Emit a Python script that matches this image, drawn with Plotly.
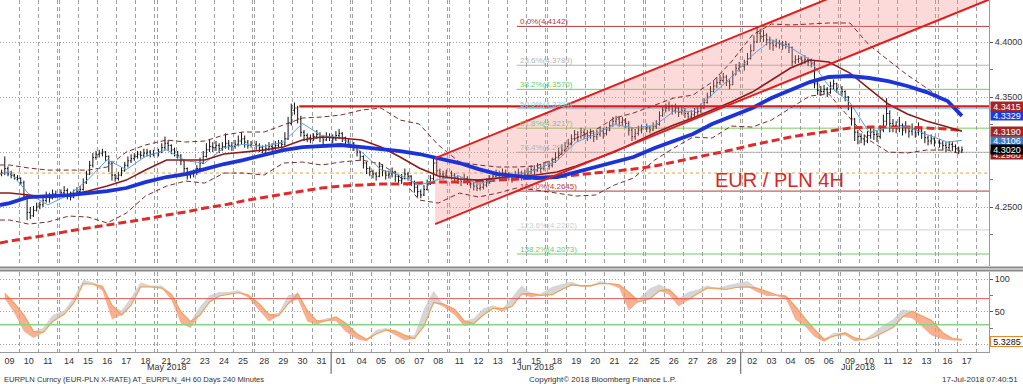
import plotly.graph_objects as go
import pandas as pd

# ---------------- data ----------------
days = ["2018-05-09","2018-05-10","2018-05-11","2018-05-14","2018-05-15","2018-05-16","2018-05-17","2018-05-18",
        "2018-05-21","2018-05-22","2018-05-23","2018-05-24","2018-05-25","2018-05-28","2018-05-29","2018-05-30",
        "2018-05-31","2018-06-01","2018-06-04","2018-06-05","2018-06-06","2018-06-07","2018-06-08","2018-06-11",
        "2018-06-12","2018-06-13","2018-06-14","2018-06-15","2018-06-18","2018-06-19","2018-06-20","2018-06-21",
        "2018-06-22","2018-06-25","2018-06-26","2018-06-27","2018-06-28","2018-06-29","2018-07-02","2018-07-03",
        "2018-07-04","2018-07-05","2018-07-06","2018-07-09","2018-07-10","2018-07-11","2018-07-12","2018-07-13",
        "2018-07-16","2018-07-17"]
day_labels = [d[-2:] for d in days]
weekend_starts = ["2018-05-12","2018-05-19","2018-05-26","2018-06-02","2018-06-09","2018-06-16",
                  "2018-06-23","2018-06-30","2018-07-07","2018-07-14"]

first_open = 4.2800
closes = [
 [4.2810,4.2850,4.2800,4.2790,4.2770,4.2760],[4.2720,4.2600,4.2450,4.2420,4.2470,4.2500],
 [4.2520,4.2560,4.2600,4.2580,4.2620,4.2610],[4.2630,4.2650,4.2610,4.2590,4.2620,4.2640],
 [4.2660,4.2720,4.2800,4.2880,4.2950,4.2980],[4.2990,4.3000,4.2960,4.2900,4.2790,4.2760],
 [4.2790,4.2830,4.2880,4.2920,4.2940,4.2960],[4.2980,4.2970,4.2990,4.3000,4.2980,4.2990],
 [4.3000,4.3040,4.3080,4.3060,4.3020,4.3000],[4.2970,4.2920,4.2850,4.2790,4.2800,4.2810],
 [4.2850,4.2900,4.2960,4.3020,4.3050,4.3040],[4.3060,4.3030,4.3050,4.3080,4.3060,4.3050],
 [4.3070,4.3100,4.3120,4.3090,4.3060,4.3070],[4.3060,4.3040,4.3020,4.3030,4.3050,4.3040],
 [4.3060,4.3080,4.3070,4.3120,4.3260,4.3380],[4.3400,4.3300,4.3180,4.3150,4.3130,4.3120],
 [4.3140,4.3160,4.3130,4.3110,4.3140,4.3130],[4.3120,4.3150,4.3170,4.3130,4.3100,4.3080],
 [4.3050,4.3000,4.2960,4.2900,4.2850,4.2820],[4.2800,4.2780,4.2870,4.2830,4.2790,4.2800],
 [4.2820,4.2780,4.2740,4.2760,4.2800,4.2780],[4.2720,4.2680,4.2640,4.2610,4.2660,4.2710],
 [4.2760,4.2900,4.2830,4.2800,4.2790,4.2810],[4.2790,4.2770,4.2750,4.2730,4.2760,4.2740],
 [4.2710,4.2690,4.2670,4.2680,4.2700,4.2720],[4.2750,4.2780,4.2800,4.2790,4.2810,4.2800],
 [4.2780,4.2760,4.2790,4.2810,4.2780,4.2800],[4.2820,4.2840,4.2830,4.2860,4.2850,4.2870],
 [4.2880,4.2910,4.2950,4.2990,4.3020,4.3050],[4.3080,4.3120,4.3160,4.3140,4.3180,4.3170],
 [4.3150,4.3170,4.3140,4.3160,4.3190,4.3170],[4.3200,4.3240,4.3280,4.3300,4.3270,4.3290],
 [4.3260,4.3200,4.3140,4.3170,4.3200,4.3210],[4.3220,4.3200,4.3230,4.3250,4.3330,4.3380],
 [4.3400,4.3420,4.3380,4.3400,4.3360,4.3380],[4.3350,4.3320,4.3340,4.3360,4.3370,4.3400],
 [4.3450,4.3500,4.3550,4.3600,4.3630,4.3650],[4.3680,4.3640,4.3610,4.3700,4.3760,4.3780],
 [4.3800,4.3850,4.3920,4.4000,4.4080,4.4050],[4.4060,4.4020,4.3990,4.3970,4.3990,4.3980],
 [4.3970,4.3980,4.3950,4.3820,4.3840,4.3850],[4.3830,4.3840,4.3820,4.3810,4.3620,4.3560],
 [4.3550,4.3570,4.3540,4.3600,4.3620,4.3580],[4.3550,4.3500,4.3420,4.3300,4.3180,4.3140],
 [4.3120,4.3100,4.3150,4.3180,4.3160,4.3140],[4.3200,4.3280,4.3350,4.3260,4.3240,4.3220],
 [4.3240,4.3200,4.3230,4.3190,4.3210,4.3180],[4.3200,4.3170,4.3130,4.3100,4.3120,4.3090],
 [4.3080,4.3060,4.3040,4.3070,4.3050,4.3030],[4.3010,4.3020]]
highs = [
 [4.2840,4.2960,4.2870,4.2830,4.2800,4.2790],[4.2770,4.2740,4.2610,4.2500,4.2510,4.2540],
 [4.2550,4.2600,4.2640,4.2630,4.2660,4.2650],[4.2660,4.2690,4.2670,4.2640,4.2660,4.2680],
 [4.2690,4.2760,4.2830,4.2920,4.2990,4.3010],[4.3020,4.3030,4.3010,4.2970,4.2920,4.2800],
 [4.2820,4.2860,4.2910,4.2960,4.2980,4.2990],[4.3010,4.3010,4.3030,4.3030,4.3020,4.3020],
 [4.3030,4.3080,4.3140,4.3110,4.3070,4.3040],[4.3010,4.2980,4.2930,4.2860,4.2830,4.2840],
 [4.2880,4.2950,4.3010,4.3080,4.3110,4.3090],[4.3100,4.3080,4.3090,4.3170,4.3110,4.3090],
 [4.3110,4.3150,4.3180,4.3150,4.3110,4.3100],[4.3100,4.3080,4.3060,4.3070,4.3090,4.3080],
 [4.3100,4.3110,4.3110,4.3180,4.3320,4.3440],[4.3450,4.3420,4.3330,4.3200,4.3170,4.3160],
 [4.3170,4.3200,4.3180,4.3150,4.3180,4.3170],[4.3160,4.3190,4.3210,4.3180,4.3140,4.3120],
 [4.3090,4.3060,4.3010,4.2970,4.2910,4.2870],[4.2840,4.2820,4.2910,4.2890,4.2830,4.2830],
 [4.2860,4.2830,4.2790,4.2800,4.2850,4.2820],[4.2790,4.2740,4.2700,4.2660,4.2700,4.2750],
 [4.2790,4.2950,4.2930,4.2850,4.2830,4.2840],[4.2830,4.2810,4.2790,4.2770,4.2800,4.2780],
 [4.2750,4.2730,4.2710,4.2710,4.2740,4.2760],[4.2790,4.2820,4.2840,4.2830,4.2850,4.2840],
 [4.2820,4.2800,4.2830,4.2850,4.2830,4.2840],[4.2860,4.2880,4.2880,4.2900,4.2890,4.2910],
 [4.2920,4.2950,4.3000,4.3040,4.3070,4.3090],[4.3120,4.3160,4.3200,4.3190,4.3220,4.3210],
 [4.3200,4.3210,4.3190,4.3200,4.3230,4.3220],[4.3230,4.3280,4.3320,4.3330,4.3320,4.3320],
 [4.3310,4.3280,4.3220,4.3210,4.3240,4.3250],[4.3260,4.3240,4.3270,4.3290,4.3370,4.3420],
 [4.3440,4.3460,4.3430,4.3440,4.3410,4.3420],[4.3400,4.3370,4.3380,4.3400,4.3410,4.3440],
 [4.3490,4.3540,4.3600,4.3650,4.3680,4.3700],[4.3720,4.3700,4.3660,4.3740,4.3800,4.3820],
 [4.3840,4.3900,4.3980,4.4060,4.4142,4.4120],[4.4110,4.4080,4.4050,4.4020,4.4030,4.4020],
 [4.4010,4.4010,4.3990,4.3960,4.3880,4.3880],[4.3870,4.3880,4.3860,4.3850,4.3830,4.3650],
 [4.3600,4.3610,4.3590,4.3640,4.3660,4.3630],[4.3600,4.3560,4.3510,4.3430,4.3310,4.3200],
 [4.3170,4.3160,4.3190,4.3230,4.3210,4.3190],[4.3240,4.3340,4.3490,4.3380,4.3300,4.3280],
 [4.3320,4.3260,4.3280,4.3240,4.3260,4.3230],[4.3270,4.3230,4.3190,4.3150,4.3160,4.3140],
 [4.3120,4.3100,4.3090,4.3100,4.3090,4.3070],[4.3050,4.3050]]
lows = [
 [4.2780,4.2790,4.2780,4.2760,4.2750,4.2740],[4.2700,4.2580,4.2380,4.2390,4.2410,4.2460],
 [4.2480,4.2500,4.2540,4.2540,4.2570,4.2580],[4.2590,4.2600,4.2570,4.2560,4.2580,4.2600],
 [4.2620,4.2650,4.2710,4.2790,4.2860,4.2930],[4.2950,4.2960,4.2920,4.2820,4.2740,4.2730],
 [4.2740,4.2780,4.2820,4.2860,4.2900,4.2920],[4.2940,4.2940,4.2950,4.2960,4.2950,4.2960],
 [4.2960,4.2990,4.3020,4.3010,4.2980,4.2960],[4.2940,4.2880,4.2800,4.2750,4.2760,4.2770],
 [4.2790,4.2840,4.2890,4.2950,4.3000,4.3000],[4.3010,4.2990,4.3010,4.3030,4.3020,4.3010],
 [4.3030,4.3050,4.3070,4.3040,4.3030,4.3040],[4.3020,4.3000,4.2990,4.2990,4.3010,4.3010],
 [4.3020,4.3040,4.3030,4.3060,4.3110,4.3240],[4.3340,4.3260,4.3140,4.3100,4.3090,4.3080],
 [4.3100,4.3120,4.3090,4.3070,4.3100,4.3100],[4.3080,4.3100,4.3120,4.3090,4.3060,4.3040],
 [4.3010,4.2960,4.2920,4.2850,4.2800,4.2780],[4.2760,4.2740,4.2770,4.2780,4.2750,4.2760],
 [4.2770,4.2730,4.2700,4.2710,4.2750,4.2740],[4.2690,4.2630,4.2590,4.2580,4.2600,4.2650],
 [4.2700,4.2740,4.2790,4.2760,4.2750,4.2770],[4.2750,4.2730,4.2710,4.2690,4.2720,4.2700],
 [4.2670,4.2650,4.2645,4.2650,4.2660,4.2680],[4.2710,4.2740,4.2760,4.2750,4.2770,4.2760],
 [4.2740,4.2720,4.2750,4.2770,4.2740,4.2760],[4.2780,4.2800,4.2790,4.2820,4.2810,4.2830],
 [4.2840,4.2860,4.2900,4.2940,4.2970,4.3000],[4.3030,4.3060,4.3100,4.3090,4.3120,4.3120],
 [4.3100,4.3120,4.3090,4.3110,4.3140,4.3120],[4.3150,4.3190,4.3230,4.3250,4.3230,4.3240],
 [4.3220,4.3150,4.3100,4.3110,4.3150,4.3170],[4.3180,4.3170,4.3190,4.3210,4.3240,4.3320],
 [4.3360,4.3370,4.3340,4.3350,4.3320,4.3340],[4.3310,4.3290,4.3300,4.3320,4.3330,4.3350],
 [4.3390,4.3440,4.3500,4.3540,4.3580,4.3610],[4.3630,4.3600,4.3570,4.3610,4.3710,4.3730],
 [4.3740,4.3790,4.3840,4.3920,4.3990,4.4000],[4.4000,4.3970,4.3930,4.3920,4.3950,4.3940],
 [4.3930,4.3940,4.3900,4.3780,4.3800,4.3810],[4.3790,4.3800,4.3780,4.3770,4.3580,4.3520],
 [4.3510,4.3520,4.3500,4.3530,4.3570,4.3540],[4.3510,4.3460,4.3380,4.3240,4.3100,4.3070],
 [4.3080,4.3060,4.3080,4.3120,4.3110,4.3090],[4.3120,4.3180,4.3240,4.3180,4.3180,4.3170],
 [4.3180,4.3150,4.3170,4.3130,4.3150,4.3130],[4.3150,4.3120,4.3080,4.3060,4.3070,4.3050],
 [4.3040,4.3020,4.3000,4.3020,4.3010,4.2990],[4.2980,4.2990]]

# indicator lines: left edge value + one per trading day
ma_short = [4.2800,4.2820,4.2620,4.2520,4.2610,4.2750,4.2930,4.2840,4.2960,4.3020,4.2920,4.2900,4.3040,4.3070,
            4.3050,4.3090,4.3260,4.3150,4.3130,4.3000,4.2840,4.2790,4.2700,4.2750,4.2780,4.2710,4.2760,4.2790,
            4.2840,4.2920,4.3090,4.3160,4.3250,4.3220,4.3240,4.3370,4.3370,4.3520,4.3680,4.3880,4.4020,4.3950,
            4.3840,4.3600,4.3450,4.3180,4.3220,4.3230,4.3160,4.3090,4.3106]
ma_mid = [4.2627,4.2627,4.2609,4.2591,4.2609,4.2645,4.2691,4.2745,4.2836,4.2927,4.2927,4.2927,4.2982,4.3000,
          4.3018,4.3045,4.3109,4.3136,4.3127,4.3109,4.3045,4.2955,4.2855,4.2782,4.2755,4.2745,4.2764,4.2782,
          4.2791,4.2818,4.2873,4.2936,4.3000,4.3082,4.3173,4.3245,4.3309,4.3382,4.3455,4.3545,4.3655,4.3764,
          4.3836,4.3818,4.3718,4.3573,4.3436,4.3345,4.3282,4.3227,4.3190]
ma_55 = [4.2518,4.2536,4.2591,4.2600,4.2609,4.2627,4.2645,4.2673,4.2727,4.2773,4.2800,4.2845,4.2891,4.2927,
         4.2973,4.3018,4.3045,4.3055,4.3064,4.3045,4.3027,4.3009,4.2982,4.2945,4.2900,4.2845,4.2800,4.2782,
         4.2764,4.2773,4.2818,4.2864,4.2909,4.2955,4.3036,4.3100,4.3164,4.3255,4.3327,4.3400,4.3491,4.3564,
         4.3636,4.3682,4.3691,4.3673,4.3645,4.3600,4.3545,4.3464,4.3329]
ma_200 = [4.2173,4.2191,4.2218,4.2245,4.2282,4.2309,4.2336,4.2364,4.2391,4.2427,4.2455,4.2491,4.2518,4.2555,
          4.2591,4.2618,4.2645,4.2673,4.2691,4.2700,4.2709,4.2709,4.2718,4.2727,4.2727,4.2736,4.2745,4.2755,
          4.2764,4.2773,4.2791,4.2809,4.2827,4.2845,4.2873,4.2909,4.2945,4.2982,4.3018,4.3064,4.3100,4.3136,
          4.3164,4.3191,4.3218,4.3227,4.3227,4.3227,4.3218,4.3209,4.3195]
bb_upper = [4.2882,4.2882,4.2855,4.2836,4.2836,4.2836,4.2864,4.3000,4.3064,4.3109,4.3091,4.3100,4.3155,4.3182,
            4.3182,4.3245,4.3309,4.3318,4.3336,4.3382,4.3400,4.3291,4.3255,4.3064,4.2909,4.2882,4.2864,4.2864,
            4.2873,4.2945,4.3127,4.3200,4.3309,4.3355,4.3427,4.3491,4.3518,4.3636,4.3818,4.4064,4.4164,4.4155,
            4.4164,4.4173,4.4173,4.3973,4.3836,4.3700,4.3582,4.3455,4.3382]
bb_lower = [4.2382,4.2382,4.2345,4.2364,4.2418,4.2409,4.2355,4.2445,4.2600,4.2691,4.2736,4.2718,4.2809,4.2809,
            4.2791,4.2900,4.2909,4.2882,4.2909,4.2927,4.2891,4.2773,4.2564,4.2536,4.2627,4.2591,4.2627,4.2673,
            4.2655,4.2627,4.2600,4.2609,4.2700,4.2764,4.2927,4.3036,4.3136,4.3127,4.3236,4.3227,4.3291,4.3400,
            4.3509,4.3527,4.3309,4.3109,4.3000,4.2991,4.3018,4.3018,4.2980]

# stochastic, two readings per trading day (06:00 and 18:00)
stoch_slow = [78,63, 45,20, 18,35, 46,63, 93,92, 89,60, 45,60, 88,88, 86,77, 50,35, 45,65, 74,76, 79,76,
              62,46, 44,62, 78,52, 36,36, 42,33, 16,8, 16,22, 21,14, 9,28, 64,62, 54,36, 32,45, 55,55,
              58,77, 78,75, 76,84, 91,90, 90,93, 93,91, 80,65, 70,82, 84,70, 68,78, 86,86, 84,87, 88,86,
              81,76, 74,58, 40,23, 8,13, 18,10, 7,11, 18,26, 42,51, 44,37, 18,9, 8]
stoch_fast = [70,48, 20,10, 25,45, 52,72, 99,95, 82,38, 52,72, 95,90, 90,68, 32,25, 58,75, 80,80, 83,72,
              52,35, 48,75, 70,35, 30,40, 36,20, 8,5, 22,25, 14,6, 14,55, 82,58, 45,28, 40,55, 60,50,
              72,90, 72,78, 88,92, 96,88, 88,97, 92,86, 52,70, 86,92, 76,58, 80,84, 90,84, 90,93, 97,80,
              74,74, 70,38, 28,12, 4,18, 14,5, 8,18, 30,38, 54,40, 28,14, 8,6, 5.3285]
stoch_levels = [70, 30]

fib_names = ["0.0%", "23.6%", "38.2%", "50.0%", "61.8%", "76.4%", "100.0%", "123.6%", "138.2%"]
fib_levels = [4.4142, 4.3789, 4.3570, 4.3394, 4.3217, 4.2998, 4.2645, 4.2292, 4.2073]
fib_colors = ["#b33a3a", "#b4b4b4", "#6ccc6c", "#8cc8e8", "#7ccc5c", "#b4b4b4", "#b33a3a", "#d0d0d0", "#6ccc6c"]
fib_start = "2018-06-14 12:00"

resistance_level = 4.3415
resistance_start = "2018-05-30 08:00"
pivot_level = 4.2809
channel_times = ["2018-06-08 08:00", "2018-07-18 16:00"]
channel_upper = [4.2945, 4.4986]
channel_lower = [4.2345, 4.4386]

tag_values = [4.3106, 4.2980, 4.3020, 4.3190, 4.3329, 4.3415]
tag_colors = ["#3a7cc4", "#9b1f1f", "#000000", "#a52424", "#1f3ad4", "#a52424"]
x_end = "2018-07-18 16:00"

# ---------------- build series ----------------
bar_hours = [2, 6, 10, 14, 18, 22]
bt, bo, bh, bl, bc = [], [], [], [], []
prev = first_open
for d, cs, hs, ls in zip(days, closes, highs, lows):
    for k, (cc, hh, ll) in enumerate(zip(cs, hs, ls)):
        bt.append(pd.Timestamp(d) + pd.Timedelta(hours=bar_hours[k]))
        bo.append(prev); bc.append(cc)
        bh.append(max(hh, prev, cc)); bl.append(min(ll, prev, cc))
        prev = cc

ind_t = ([pd.Timestamp(days[0])] + [pd.Timestamp(d) + pd.Timedelta(hours=12) for d in days[:-1]]
         + [pd.Timestamp(days[-1]) + pd.Timedelta(hours=6)])
st_t = []
for d in days[:-1]:
    st_t += [pd.Timestamp(d) + pd.Timedelta(hours=6), pd.Timestamp(d) + pd.Timedelta(hours=18)]
st_t.append(pd.Timestamp(days[-1]) + pd.Timedelta(hours=6))

st_hi = [max(a, b) for a, b in zip(stoch_fast, stoch_slow)]
st_lo = [min(a, b) for a, b in zip(stoch_fast, stoch_slow)]

FONT = "Liberation Sans, Arial, sans-serif"
fig = go.Figure()

# main panel (x2/y2)
fig.add_trace(go.Scatter(x=[channel_times[0], channel_times[1], channel_times[1], channel_times[0]],
                         y=[channel_upper[0], channel_upper[1], channel_lower[1], channel_lower[0]],
                         fill="toself", fillcolor="rgba(246,140,140,0.32)", line=dict(width=0),
                         mode="lines", xaxis="x2", yaxis="y2", hoverinfo="skip"))
for band in (bb_upper, bb_lower):
    fig.add_trace(go.Scatter(x=ind_t, y=band, mode="lines", xaxis="x2", yaxis="y2",
                             line=dict(color="#7a2e2e", width=1, dash="5px,3px")))
fig.add_trace(go.Scatter(x=ind_t, y=ma_200, mode="lines", xaxis="x2", yaxis="y2",
                         line=dict(color="#e02a2a", width=3, dash="8px,4px")))
fig.add_trace(go.Ohlc(x=bt, open=bo, high=bh, low=bl, close=bc, xaxis="x2", yaxis="y2",
                      increasing=dict(line=dict(color="#111111", width=1)),
                      decreasing=dict(line=dict(color="#111111", width=1)), tickwidth=0.35))
fig.add_trace(go.Scatter(x=ind_t, y=ma_short, mode="lines", xaxis="x2", yaxis="y2",
                         line=dict(color="#5d9fd6", width=1)))
fig.add_trace(go.Scatter(x=ind_t, y=ma_mid, mode="lines", xaxis="x2", yaxis="y2",
                         line=dict(color="#8e1b1b", width=1.6)))
fig.add_trace(go.Scatter(x=ind_t, y=ma_55, mode="lines", xaxis="x2", yaxis="y2",
                         line=dict(color="#1c33d8", width=3.8)))
for ch in (channel_upper, channel_lower):
    fig.add_trace(go.Scatter(x=channel_times, y=ch, mode="lines", xaxis="x2", yaxis="y2",
                             line=dict(color="#e01e1e", width=2)))
fig.add_trace(go.Scatter(x=[resistance_start, x_end], y=[resistance_level] * 2, mode="lines",
                         xaxis="x2", yaxis="y2", line=dict(color="#d81c1c", width=2.2)))

# lower panel (x/y)
fig.add_trace(go.Scatter(x=st_t, y=stoch_slow, mode="lines", line=dict(width=0), hoverinfo="skip"))
fig.add_trace(go.Scatter(x=st_t, y=st_hi, mode="lines", line=dict(width=0), fill="tonexty",
                         fillcolor="rgba(200,200,200,0.75)"))
fig.add_trace(go.Scatter(x=st_t, y=stoch_slow, mode="lines", line=dict(width=0), hoverinfo="skip"))
fig.add_trace(go.Scatter(x=st_t, y=st_lo, mode="lines", line=dict(width=0), fill="tonexty",
                         fillcolor="rgba(246,150,110,0.75)"))
fig.add_trace(go.Scatter(x=st_t, y=stoch_slow, mode="lines", line=dict(color="#eda25a", width=1.2)))

shapes = []
for lvl, col in zip(stoch_levels, ["#e05656", "#86d486"]):
    shapes.append(dict(type="line", xref="paper", yref="y", x0=0, x1=1, y0=lvl, y1=lvl,
                       line=dict(color=col, width=1.5 if lvl == 30 else 1)))
shapes.append(dict(type="line", xref="paper", yref="y2", x0=0, x1=1, y0=pivot_level, y1=pivot_level,
                   line=dict(color="#e3a23a", width=1, dash="dot"), layer="below"))
for lvl, col in zip(fib_levels, fib_colors):
    shapes.append(dict(type="line", xref="x2", yref="y2", x0=fib_start, x1=x_end, y0=lvl, y1=lvl,
                       line=dict(color=col, width=1), layer="below"))
# panel separator and month separators
for yy in (0.2404, 0.2318):
    shapes.append(dict(type="line", xref="paper", yref="paper", x0=0, x1=1.04, y0=yy, y1=yy,
                       line=dict(color="#8a8a8a", width=2)))
for ms in ["2018-05-31 23:59", "2018-06-29 23:59"]:
    shapes.append(dict(type="line", xref="x", yref="paper", x0=ms, x1=ms, y0=0, y1=-0.062,
                       line=dict(color="#555555", width=1)))

annotations = []
for name, lvl, col in zip(fib_names, fib_levels, fib_colors):
    annotations.append(dict(x=fib_start, y=lvl, xref="x2", yref="y2", text=f"{name}({lvl:.4f})",
                            showarrow=False, xanchor="left", yanchor="bottom", xshift=1, yshift=-2,
                            font=dict(family=FONT, size=8, color=col)))
annotations.append(dict(x=0.788, y=0.489, xref="paper", yref="paper", text="EUR / PLN 4H", showarrow=False,
                        xanchor="center", yanchor="middle",
                        font=dict(family=FONT, size=20, color="#d42a2a")))
for v, col in zip(tag_values, tag_colors):
    annotations.append(dict(x=1.0, y=v, xref="paper", yref="y2", text=f"{v:.4f}", showarrow=False,
                            xanchor="left", yanchor="middle", xshift=1, bgcolor=col, borderpad=0,
                            width=32, height=9, font=dict(family=FONT, size=9, color="white")))
annotations.append(dict(x=1.0, y=stoch_fast[-1], xref="paper", yref="y", text=f"{stoch_fast[-1]:.4f}",
                        showarrow=False, xanchor="left", yanchor="middle", xshift=1, bgcolor="white",
                        bordercolor="#e08a2c", borderwidth=1, borderpad=0, width=32, height=9,
                        font=dict(family=FONT, size=9, color="#111111")))
for txt, xd in [("May 2018", "2018-05-21 12:00"), ("Jun 2018", "2018-06-15 12:00"), ("Jul 2018", "2018-07-09 22:00")]:
    annotations.append(dict(x=xd, y=-0.043, xref="x", yref="paper", text=txt, showarrow=False,
                            xanchor="center", yanchor="middle", font=dict(family=FONT, size=9, color="#333333")))
annotations += [
    dict(x=0.002, y=-0.077, xref="paper", yref="paper", xanchor="left", yanchor="middle", showarrow=False,
         text="EURPLN Curncy (EUR-PLN X-RATE) AT_EURPLN_4H 60 Days 240 Minutes",
         font=dict(family=FONT, size=7.6, color="#333333")),
    dict(x=0.609, y=-0.077, xref="paper", yref="paper", xanchor="center", yanchor="middle", showarrow=False,
         text="Copyright© 2018 Bloomberg Finance L.P.", font=dict(family=FONT, size=8, color="#333333")),
    dict(x=1.031, y=-0.077, xref="paper", yref="paper", xanchor="right", yanchor="middle", showarrow=False,
         text="17-Jul-2018 07:40:51", font=dict(family=FONT, size=8, color="#333333")),
]

noon = [pd.Timestamp(d) + pd.Timedelta(hours=12) for d in days]
bounds = ([pd.Timestamp(d) for d in days] + [pd.Timestamp(s) - pd.Timedelta(minutes=1) for s in weekend_starts]
          + [pd.Timestamp("2018-07-18")])
rb = [dict(values=weekend_starts, dvalue=45.5 * 3600 * 1000)]
xcommon = dict(type="date", range=["2018-05-09 00:00", x_end], rangebreaks=rb, showgrid=False,
               zeroline=False, rangeslider=dict(visible=False),
               minor=dict(tickmode="array", tickvals=bounds, showgrid=True, gridcolor="#a0a0a0",
                          griddash="4px,3px", gridwidth=1, ticks=""))

fig.update_layout(
    width=1023, height=384, margin=dict(l=0, r=34, t=0, b=32),
    paper_bgcolor="white", plot_bgcolor="white", showlegend=False,
    font=dict(family=FONT, size=9, color="#333333"),
    xaxis=dict(**xcommon, anchor="y", tickmode="array", tickvals=noon, ticktext=day_labels,
               ticks="", tickfont=dict(size=9, color="#333333"), showline=True, linecolor="#9a9a9a"),
    xaxis2=dict(**xcommon, anchor="y2", matches="x", showticklabels=False, ticks=""),
    yaxis=dict(domain=[0, 0.2273], range=[-11.45, 110.7], side="right", anchor="x",
               tickmode="array", tickvals=[0, 50, 100], ticktext=["", "50", "100"],
               showgrid=True, gridcolor="#a0a0a0", griddash="1px,2px", zeroline=False,
               ticks="outside", ticklen=3, tickcolor="#555", showline=True, linecolor="#9a9a9a",
               minor=dict(tickmode="array", tickvals=[25, 75], ticks="outside", ticklen=3, tickcolor="#777")),
    yaxis2=dict(domain=[0.2443, 1], range=[4.1964, 4.4382], side="right", anchor="x2",
                tickmode="array", tickvals=[4.25, 4.30, 4.35, 4.40], tickformat=".4f",
                showgrid=True, gridcolor="#a0a0a0", griddash="1px,2px", zeroline=False,
                ticks="outside", ticklen=3, tickcolor="#555", showline=True, linecolor="#9a9a9a",
                minor=dict(tickmode="array", tickvals=[4.225, 4.275, 4.325, 4.375], ticks="outside",
                           ticklen=3, tickcolor="#777")),
    shapes=shapes, annotations=annotations,
)

fig.write_html("out.html", config={"displayModeBar": False},
               post_script="document.body.style.margin='0px';document.body.style.overflow='hidden';")
